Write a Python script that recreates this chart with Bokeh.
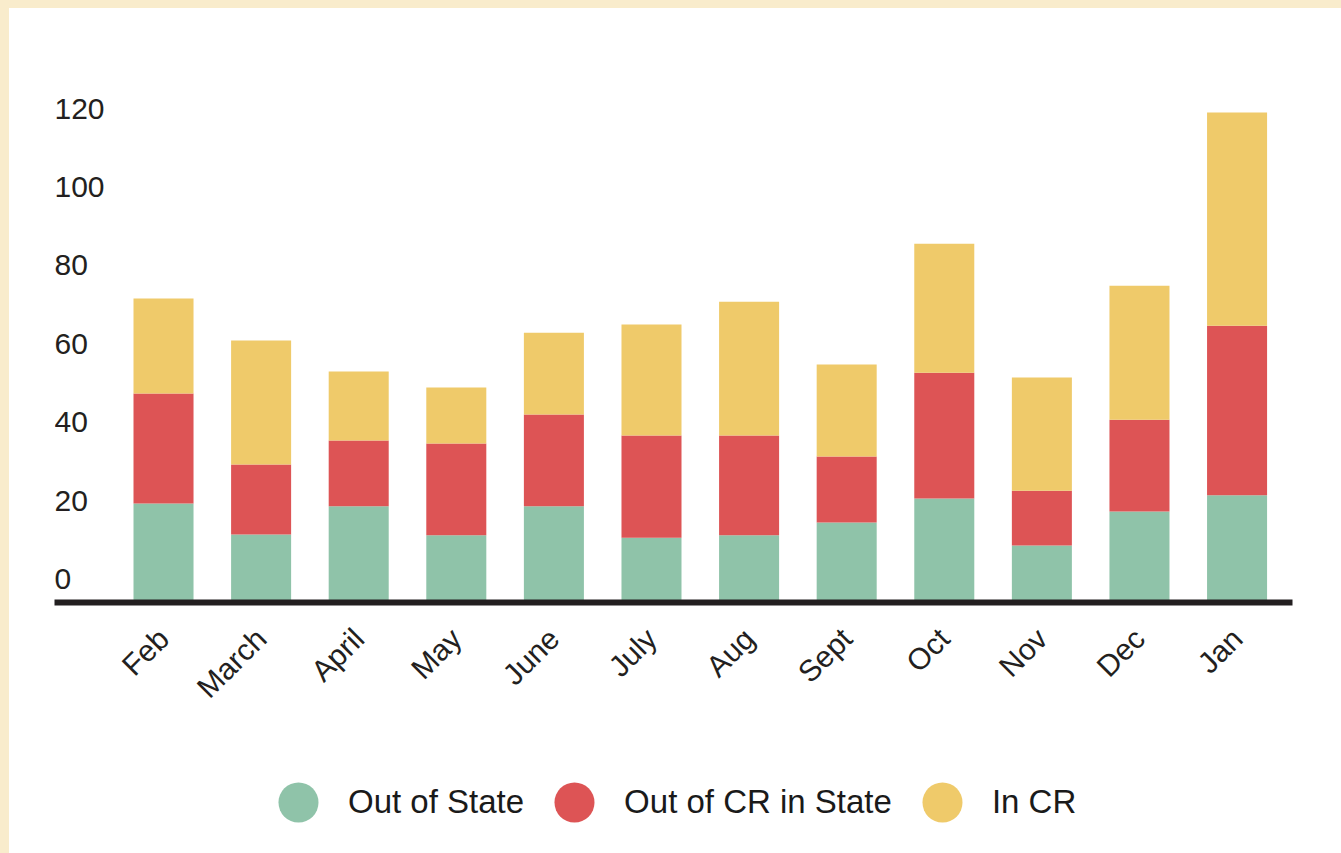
import math
from bokeh.plotting import figure
from bokeh.layouts import column
from bokeh.models import (ColumnDataSource, FixedTicker, Legend, LegendItem,
                          Range1d, GlobalInlineStyleSheet)
from bokeh.core.properties import value
from bokeh.embed import file_html
from bokeh.resources import INLINE

# ---- data ----
months = ["Feb", "March", "April", "May", "June", "July", "Aug", "Sept",
          "Oct", "Nov", "Dec", "Jan"]
out_of_state = [24.6, 16.7, 23.9, 16.5, 23.9, 15.9, 16.5, 19.8, 25.9, 13.9, 22.6, 26.7]
out_of_cr_in_state = [28.1, 17.9, 16.8, 23.4, 23.4, 26.1, 25.5, 16.8, 32.1, 14.0, 23.4, 43.3]
in_cr = [24.2, 31.6, 17.6, 14.3, 20.9, 28.3, 34.1, 23.5, 32.9, 28.9, 34.2, 54.4]
series = ["Out of State", "Out of CR in State", "In CR"]
colors = ["#8FC3A9", "#DD5455", "#EFCA6A"]
y_ticks = [0, 20, 40, 60, 80, 100, 120]

TEXT = "#231F20"
FONT = "Liberation Sans"
W, H_MAIN, H_LEG = 1332, 714, 131

x = list(range(len(months)))
src = ColumnDataSource(dict(x=x, a=out_of_state, b=out_of_cr_in_state, c=in_cr))


def clean(fig):
    fig.background_fill_color = None
    fig.border_fill_color = None
    fig.outline_line_color = None
    fig.grid.visible = False
    fig.styles = {"background-color": "white"}


x_start, x_end = -1.117, 11.568
p = figure(width=W, height=H_MAIN, output_backend="svg", toolbar_location=None,
           x_range=Range1d(x_start, x_end), y_range=Range1d(-0.64, 130.0),
           min_border_left=45, min_border_right=49, min_border_top=82,
           min_border_bottom=120)
clean(p)
p.yaxis.visible = False
p.stylesheets = [GlobalInlineStyleSheet(
    css="html, body { background-color: #F9ECCC !important; } "
        "body { padding: 8px 0 0 9px !important; overflow: hidden; }")]

p.vbar_stack(["a", "b", "c"], x="x", width=0.615, color=colors, source=src,
             line_color=None)

# y tick labels (left aligned, sitting above their value)
p.text(x=[x_start] * len(y_ticks), y=y_ticks, text=[str(t) for t in y_ticks],
       text_align="left", text_baseline="middle", y_offset=-21,
       text_font=value(FONT), text_font_size="30px", text_color=TEXT)

# x axis
p.xaxis.ticker = FixedTicker(ticks=x)
p.xaxis.major_label_overrides = {i: m for i, m in enumerate(months)}
p.xaxis.major_label_orientation = math.pi / 4
p.xaxis.axis_line_width = 6
p.xaxis.axis_line_color = TEXT
p.xaxis.major_tick_line_color = None
p.xaxis.minor_tick_line_color = None
p.xaxis.major_label_text_font = FONT
p.xaxis.major_label_text_font_size = "30px"
p.xaxis.major_label_text_color = TEXT
p.xaxis.major_label_standoff = 25

# legend in its own strip below the chart
q = figure(width=W, height=H_LEG, output_backend="svg", toolbar_location=None,
           x_range=Range1d(0, 1), y_range=Range1d(0, 1),
           min_border=0, min_border_left=0, min_border_right=0,
           min_border_top=0, min_border_bottom=0)
clean(q)
q.axis.visible = False
nan = float("nan")
dummies = [q.scatter(x=[nan], y=[nan], size=10, color=c, line_color=None)
           for c in colors]
items = [LegendItem(label=s, renderers=[r]) for s, r in zip(series, dummies)]
legend = Legend(items=items, orientation="horizontal", location=(194, 1),
                glyph_width=100, glyph_height=100, label_standoff=-6, spacing=0,
                padding=0, margin=0, border_line_color=None,
                background_fill_alpha=0, label_text_font=FONT,
                label_text_font_size="33px", label_text_color="#1a1a1a")
q.add_layout(legend)

layout = column(p, q, spacing=0)
open("out.html", "w").write(file_html(layout, INLINE))
